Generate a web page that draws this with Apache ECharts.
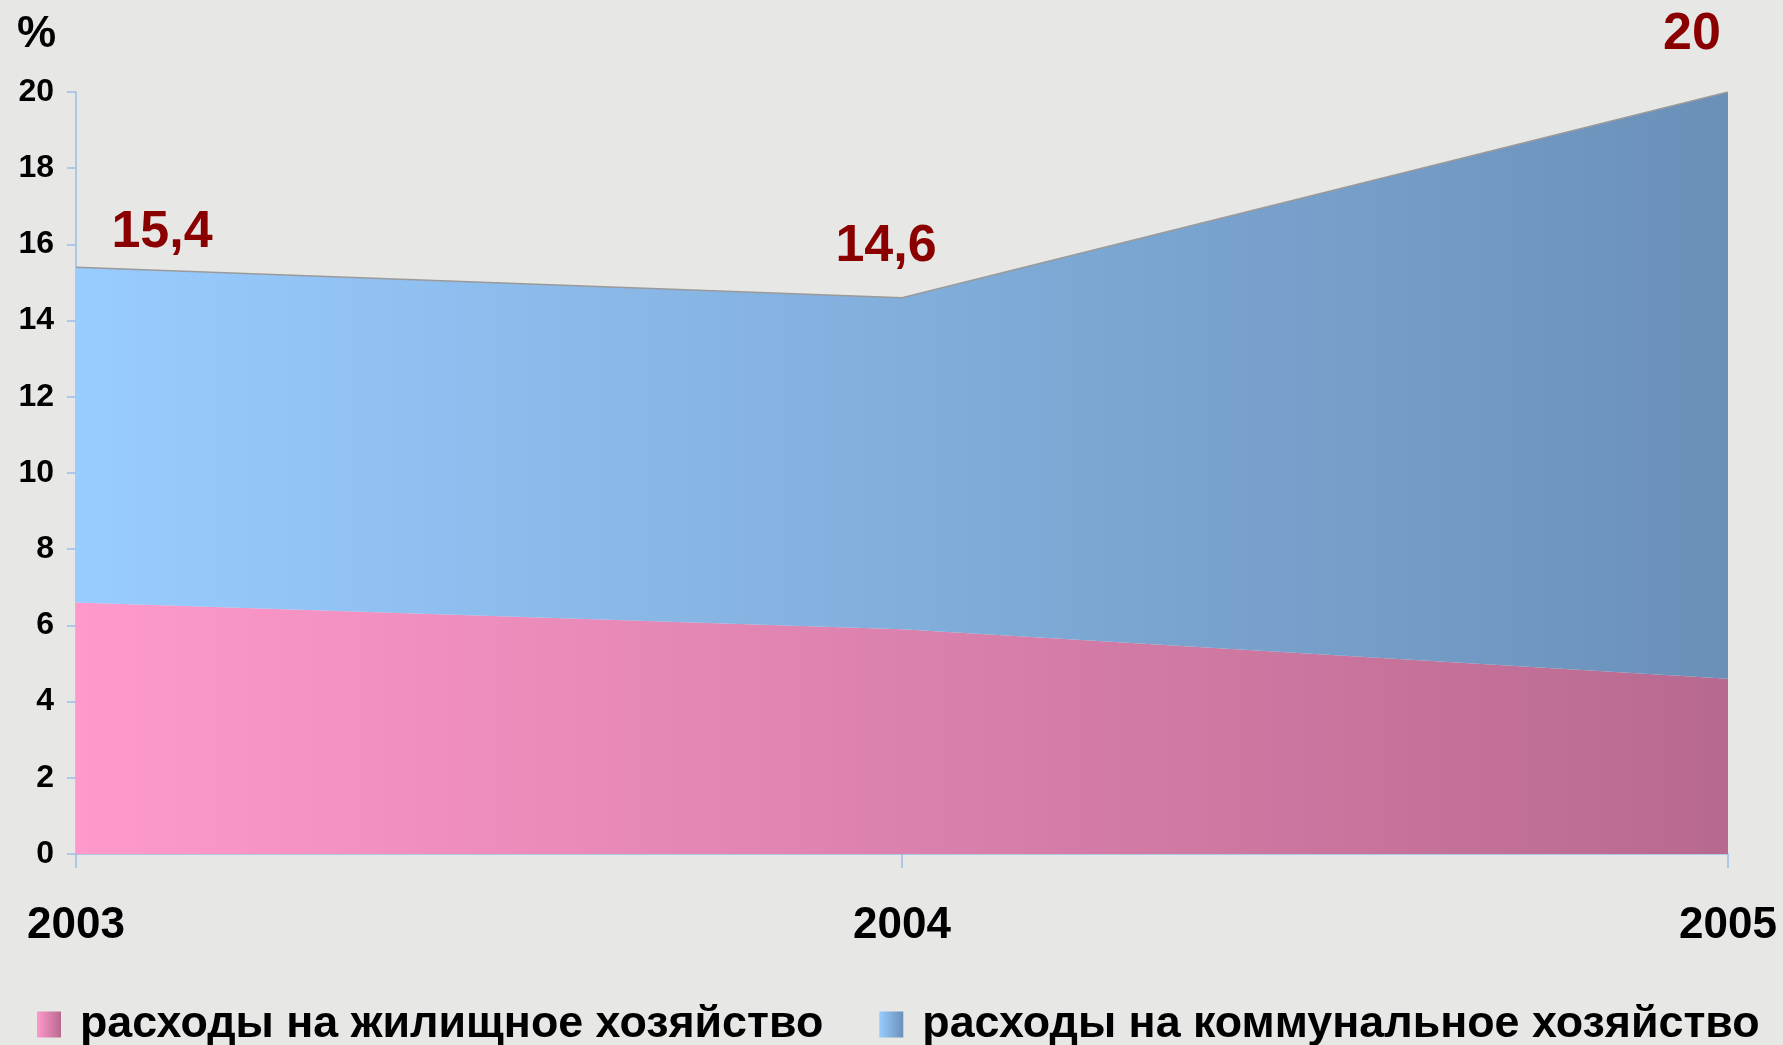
<!DOCTYPE html>
<html>
<head>
<meta charset="utf-8">
<script src="https://cdn.jsdelivr.net/npm/echarts@6/dist/echarts.min.js"></script>
<style>
  html, body { margin: 0; padding: 0; background: #e7e7e5; }
  #chart { width: 1783px; height: 1045px; }
</style>
</head>
<body>
<div id="chart"></div>
<script>
const years = ['2003', '2004', '2005']
const housing = [6.6, 5.9, 4.6]      // расходы на жилищное хозяйство
const communal = [8.8, 8.7, 15.4]    // расходы на коммунальное хозяйство
const totals = ['15,4', '14,6', '20']
const yTicks = { min: 0, max: 20, interval: 2 }

// где стоят подписи итогов относительно точки
const totalOffsets = [[86, -4], [-16, -20], [-36, -26]]

const font = '"Liberation Sans", Arial, sans-serif'

function hGrad (from, to) {
  return new echarts.graphic.LinearGradient(0, 0, 1, 0, [
    { offset: 0, color: from },
    { offset: 1, color: to }
  ])
}

const chart = echarts.init(document.getElementById('chart'))

const option = {
  backgroundColor: '#e7e7e5',
  animation: false,
  title: {
    text: '%',
    left: 12,
    top: 8,
    textStyle: { fontFamily: font, fontSize: 44, fontWeight: 'bold', color: '#000' }
  },
  grid: { left: 76, right: 55, top: 92, bottom: 191 },
  legend: {
    left: 32,
    top: 997,
    itemWidth: 24,
    itemHeight: 26,
    itemGap: 56,
    icon: 'rect',
    textStyle: {
      fontFamily: font, fontSize: 44.8, fontWeight: 'bold', color: '#000',
      lineHeight: 44, padding: [0, 0, 0, 14]
    },
    data: ['расходы на жилищное хозяйство', 'расходы на коммунальное хозяйство']
  },
  xAxis: {
    type: 'category',
    boundaryGap: false,
    data: years,
    axisLine: { lineStyle: { color: '#9dbde6', width: 1.5 } },
    axisTick: { length: 14, lineStyle: { color: '#9dbde6', width: 1.5 } },
    axisLabel: { margin: 50, fontFamily: font, fontSize: 44, fontWeight: 'bold', color: '#000' }
  },
  yAxis: {
    type: 'value',
    min: yTicks.min,
    max: yTicks.max,
    interval: yTicks.interval,
    splitLine: { show: false },
    axisLine: { show: true, lineStyle: { color: '#9dbde6', width: 1.5 } },
    axisTick: { show: true, length: 9, lineStyle: { color: '#9dbde6', width: 1.5 } },
    axisLabel: { margin: 22, fontFamily: font, fontSize: 32, fontWeight: 'bold', color: '#000' }
  },
  series: [
    {
      name: 'расходы на жилищное хозяйство',
      type: 'line',
      stack: 'total',
      symbol: 'none',
      color: hGrad('#ff99cc', '#b8698f'),
      lineStyle: { width: 0 },
      areaStyle: { color: hGrad('#ff99cc', '#b8698f'), opacity: 1 },
      data: housing
    },
    {
      name: 'расходы на коммунальное хозяйство',
      type: 'line',
      stack: 'total',
      symbol: 'circle',
      symbolSize: 0,
      showSymbol: true,
      color: hGrad('#99ccff', '#6a90b8'),
      lineStyle: { width: 1.5, color: '#9a9a9a' },
      areaStyle: { color: hGrad('#99ccff', '#6a90b8'), opacity: 1 },
      label: {
        show: true,
        position: 'top',
        distance: 5,
        fontFamily: font,
        fontSize: 52,
        fontWeight: 'bold',
        color: '#8a0000',
        formatter (p) { return totals[p.dataIndex] }
      },
      data: communal.map((v, i) => ({ value: v, label: { offset: totalOffsets[i] } }))
    }
  ]
}

chart.setOption(option)
</script>
</body>
</html>
